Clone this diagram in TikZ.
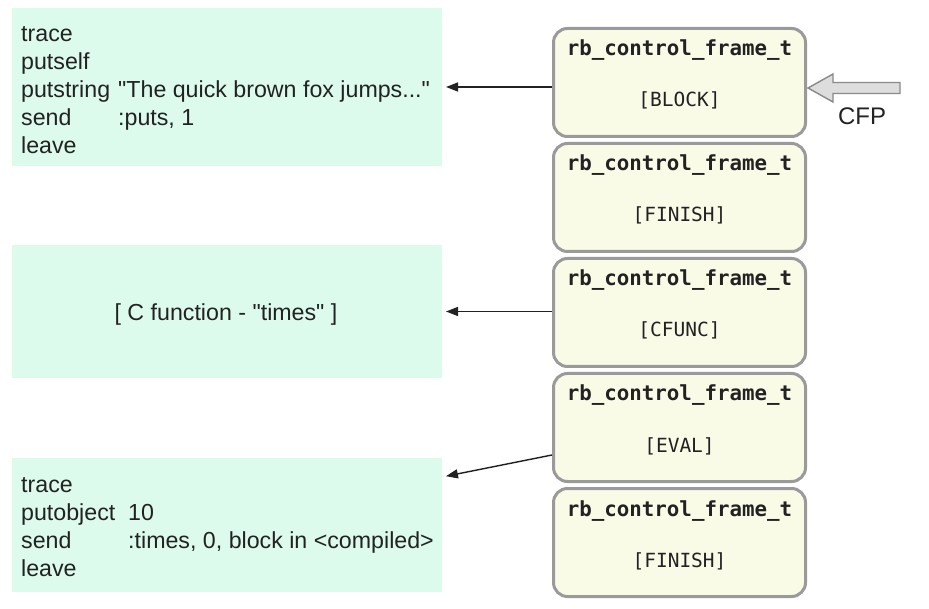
\documentclass[tikz,border=0pt]{standalone}
\usepackage{fontspec}
\setmainfont{Liberation Sans}[Ligatures=TeXOff]
\newfontfamily\framefont{DejaVu Sans Mono}
\usetikzlibrary{arrows.meta,calc}
\definecolor{mint}{HTML}{DCFBEC}
\definecolor{cream}{HTML}{FAFBE7}
\definecolor{frameborder}{HTML}{9A9A9A}
\definecolor{ink}{HTML}{222222}
\definecolor{cfpfill}{HTML}{DDDDDD}
\definecolor{cfpline}{HTML}{8A8A8A}
\begin{document}
\begin{tikzpicture}[x=1pt,y=-1pt,
  codebox/.style={fill=mint, draw=none, minimum width=430pt, minimum height=#1, inner sep=0pt, outer sep=0pt},
  framebox/.style={rounded corners=14pt, draw=frameborder, line width=3pt, fill=cream,
    minimum width=252pt, minimum height=108pt, inner sep=0pt},
  code/.style={anchor=base west, inner sep=0pt, text=ink, font=\fontsize{23.2}{27}\selectfont},
  ftitle/.style={anchor=base, inner sep=0pt, text=ink, font=\framefont\bfseries\fontsize{20.8}{24}\selectfont},
  ftag/.style={anchor=base, inner sep=0pt, text=ink, font=\framefont\fontsize{19.5}{23}\selectfont},
  link/.style={-{Triangle[length=12pt,width=9pt]}, line width=1.4pt, shorten >=4pt, draw=ink}]
\useasboundingbox (0,0) rectangle (929,609);
\fill[white] (0,0) rectangle (929,609);

% left code boxes
\node[codebox=158pt] (l1) at (227,87) {};
\node[codebox=133pt] (l2) at (227,311.5) {};
\node[codebox=134pt] (l3) at (227,525) {};

% box 1 text
\node[code] (t1a) at (21,41.5) {trace};
\node[code] (t1b) at (21,69.5) {putself};
\node[code] (t1c) at (21,97.5) {putstring};
\node[code] (t1d) at (21,125.5) {send};
\node[code] (t1e) at (21,153.5) {leave};
\node[code] (t1f) at (118,97.5) {"The quick brown fox jumps..."};
\node[code] (t1g) at (118,125.5) {:puts, 1};

% box 2 text
\node[inner sep=0pt, text=ink, font=\fontsize{23.2}{27}\selectfont] (t2) at (226,315) {[ C function - "times" ]};

% box 3 text
\node[code] (t3a) at (21,492) {trace};
\node[code] (t3b) at (21,520) {putobject};
\node[code] (t3c) at (21,548) {send};
\node[code] (t3d) at (21,576) {leave};
\node[code] (t3e) at (128,520) {10};
\node[code] (t3f) at (128,548) {:times, 0, block in <compiled>};

% control frames
\foreach \i/\tag in {1/BLOCK,2/FINISH,3/CFUNC,4/EVAL,5/FINISH}{
  \node[framebox] (f\i) at (679.5,{82.5+115*(\i-1)}) {};
  \node[ftitle] (f\i title) at ($(f\i.center)+(0,-26.5)$) {rb\_control\_frame\_t};
  \node[ftag] (f\i tag) at ($(f\i.center)+(0,24.5)$) {[\tag]};
}

% connectors
\draw[link] (f1.west |- l1.east) -- (l1.east);
\draw[link] (f3.west |- l2.east) -- (l2.east);
\draw[link] ($(f4.west)+(0,27.5)$) -- ($(l3.north east)+(0,19)$);

% CFP pointer
\coordinate (cfptip) at ($(f1.east)+(1,5.5)$);
\draw[cfpline, fill=cfpfill, line width=1.4pt, line join=miter]
  (cfptip) -- ++(25,-14) -- ++(0,8.5) -- ++(67,0) -- ++(0,11) -- ++(-67,0) -- ++(0,8.5) -- cycle;
\node[inner sep=0pt, text=ink, font=\fontsize{24}{28}\selectfont] (cfp) at (862,116) {CFP};
\end{tikzpicture}
\end{document}
